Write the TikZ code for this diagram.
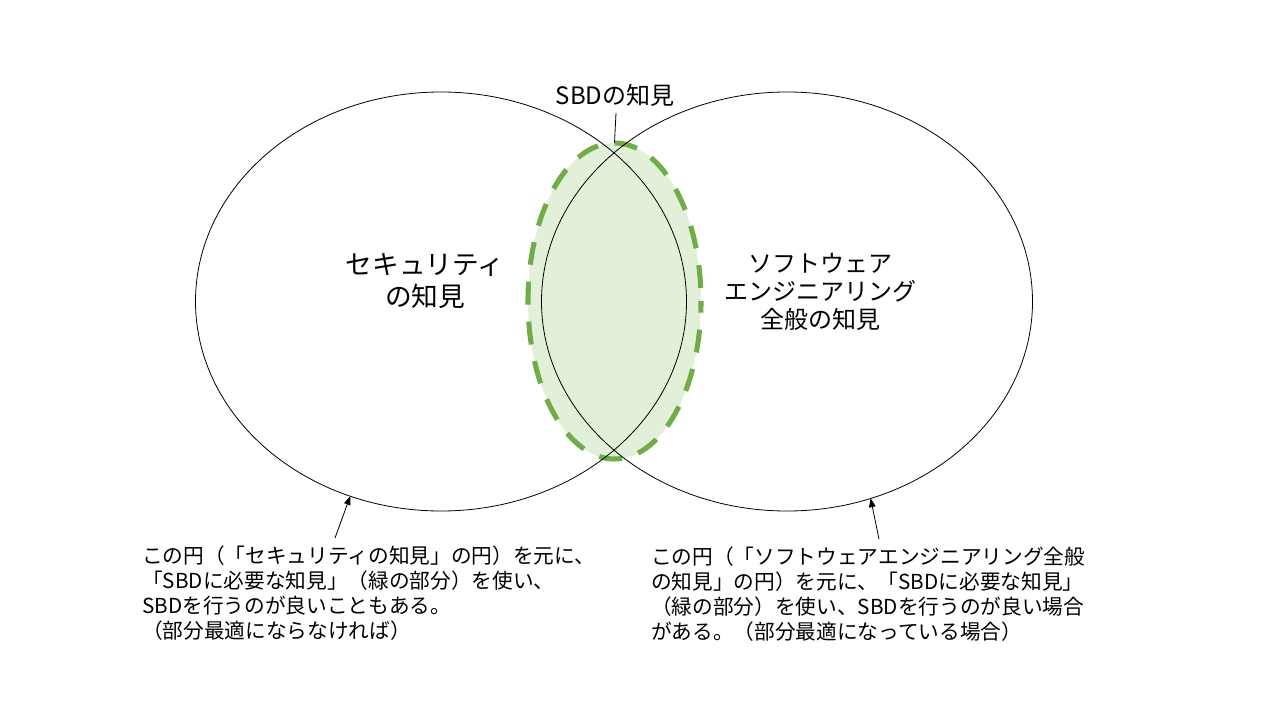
\documentclass[tikz,border=0pt]{standalone}
\usepackage{fontspec}
\setmainfont{Noto Sans CJK JP}
\usetikzlibrary{shapes.geometric,arrows.meta}
\definecolor{grnline}{HTML}{70AD47}
\definecolor{grnfill}{HTML}{E2F0D9}
\tikzset{
  bigellipse/.style={ellipse, draw=black, line width=0.6pt, inner sep=0pt, outer sep=0pt,
    minimum width=368.25pt, minimum height=314.25pt},
  sbdellipse/.style={ellipse, draw=grnline, fill=grnfill, line width=3.8pt, inner sep=0pt, outer sep=0pt,
    dash pattern=on 17.25pt off 12.75pt, dash phase=20.25pt, minimum width=129.75pt, minimum height=237pt},
  pointer/.style={line width=0.6pt, -{Triangle[length=6.5pt,width=5pt]}},
  leader/.style={line width=0.6pt},
  bigtext/.style={align=center, inner sep=0pt},
  note/.style={align=left, inner sep=0pt, anchor=west, font=\fontsize{15.5}{18.8}\selectfont}
}
\begin{document}
\begin{tikzpicture}[x=0.75pt,y=-0.75pt]
\useasboundingbox (0,0) rectangle (1280,720);
% green SBD ellipse
\node[sbdellipse] (G) at (614.5,301) {};
% two large ellipses
\node[bigellipse] (L) at (441,301.5) {};
\node[bigellipse] (R) at (787,301.5) {};
% labels
\node[bigtext, font=\fontsize{20}{24}\selectfont] (LT) at (425,281) {セキュリティ\\の知見};
\node[bigtext, font=\fontsize{18}{21}\selectfont] (RT) at (820,292) {ソフトウェア\\エンジニアリング\\全般の知見};
\node[bigtext, font=\fontsize{18}{21}\selectfont] (SBD) at (615,95) {SBDの知見};
\coordinate (sbdfoot) at (616,113);
\draw[leader] (sbdfoot) -- (G.north);
% notes
\node[note] (N1) at (142,593) {この円（「セキュリティの知見」の円）を元に、\\「SBDに必要な知見」（緑の部分）を使い、\\SBDを行うのが良いこともある。\\（部分最適にならなければ）};
\node[note] (N2) at (651,594) {この円（「ソフトウェアエンジニアリング全般\\の知見」の円）を元に、「SBDに必要な知見」\\（緑の部分）を使い、SBDを行うのが良い場合\\がある。（部分最適になっている場合）};
\coordinate (a1) at (335,538);
\coordinate (a2) at (879,539);
\draw[pointer] (a1) -- (L.-115.4);
\draw[pointer] (a2) -- (R.-67.7);
\end{tikzpicture}
\end{document}
